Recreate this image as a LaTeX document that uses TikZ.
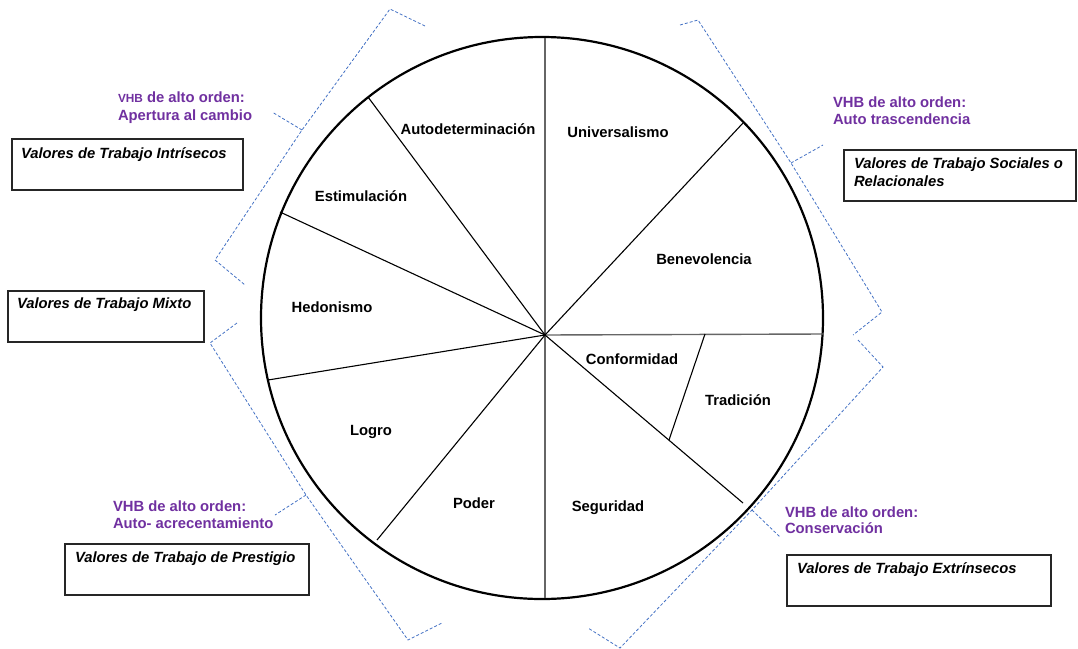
\documentclass[tikz,border=0pt]{standalone}
\usepackage{fontspec}
\setmainfont{Liberation Sans}
\definecolor{vhbpurple}{HTML}{7030A0}
\definecolor{bracketblue}{HTML}{4472C4}
\begin{document}
\begin{tikzpicture}[x=1pt,y=-1pt,
  every node/.style={inner sep=0pt, outer sep=0pt},
  wheel/.style={line width=2.2pt, black},
  spoke/.style={line width=1.1pt, black},
  axis/.style={line width=1.4pt, black!60},
  valuelbl/.style={font=\fontsize{14.8}{17.5}\selectfont\bfseries, anchor=base},
  vhb/.style={font=\fontsize{14.8}{17.5}\selectfont\bfseries, text=vhbpurple, anchor=base west},
  wbox/.style={draw=black!85, line width=1.1pt, anchor=north west, fill=white},
  wboxtext/.style={font=\fontsize{14.8}{17.5}\selectfont\bfseries\itshape, anchor=base west},
  brace/.style={draw=bracketblue, line width=0.8pt, dash pattern=on 3pt off 2pt}
]
\useasboundingbox (0,0) rectangle (1078,648);

% the value wheel
\coordinate (C) at (542,318);
\draw[wheel] (C) circle[radius=281];
\coordinate (H) at (545,335);
\coordinate (top) at (545,38);
\coordinate (bot) at (545,598);
\coordinate (right) at (823,334);
\coordinate (pA) at (368,97);
\coordinate (pB) at (743,123);
\coordinate (pC) at (280,212);
\coordinate (pD) at (268,380);
\coordinate (pE) at (377,540);
\coordinate (pF) at (743,503);
\coordinate (tq) at (705,334);
\coordinate (tr) at (669,440);
\draw[axis] (top) -- (bot);
\draw[axis] (H) -- (right);
\draw[spoke] (H) -- (pA);
\draw[spoke] (H) -- (pB);
\draw[spoke] (H) -- (pC);
\draw[spoke] (H) -- (pD);
\draw[spoke] (H) -- (pE);
\draw[spoke] (H) -- (pF);
\draw[spoke] (tq) -- (tr);

% value sectors
\node[valuelbl] (autod) at (468,134) {Autodeterminación};
\node[valuelbl] (univ) at (618,137) {Universalismo};
\node[valuelbl] (estim) at (361,201) {Estimulación};
\node[valuelbl] (benev) at (704,264) {Benevolencia};
\node[valuelbl] (hedon) at (332,312) {Hedonismo};
\node[valuelbl] (confo) at (632,364) {Conformidad};
\node[valuelbl] (tradi) at (738,405) {Tradición};
\node[valuelbl] (logro) at (371,435) {Logro};
\node[valuelbl] (poder) at (474,508) {Poder};
\node[valuelbl] (segur) at (608,511) {Seguridad};

% higher-order value labels
\node[vhb] (vhbA1) at (118,102) {{\fontsize{11.8}{12}\selectfont VHB} de alto orden:};
\node[vhb] (vhbA2) at (118,120) {Apertura al cambio};
\node[vhb] (vhbB1) at (833,107) {VHB de alto orden:};
\node[vhb] (vhbB2) at (833,124) {Auto trascendencia};
\node[vhb] (vhbC1) at (113,511) {VHB de alto orden:};
\node[vhb] (vhbC2) at (113,528) {Auto- acrecentamiento};
\node[vhb] (vhbD1) at (785,517) {VHB de alto orden:};
\node[vhb] (vhbD2) at (785,533) {Conservación};

% work value boxes
\node[wbox, minimum width=231, minimum height=51] (bxI) at (12,139) {};
\node[wboxtext] (txI) at (21,158) {Valores de Trabajo Intrísecos};
\node[wbox, minimum width=232, minimum height=51] (bxS) at (844,150) {};
\node[wboxtext] (txS1) at (854,168) {Valores de Trabajo Sociales o};
\node[wboxtext] (txS2) at (854,186) {Relacionales};
\node[wbox, minimum width=196, minimum height=51] (bxM) at (8,291) {};
\node[wboxtext] (txM) at (17,308) {Valores de Trabajo Mixto};
\node[wbox, minimum width=244, minimum height=51] (bxP) at (65,544) {};
\node[wboxtext] (txP) at (75,562) {Valores de Trabajo de Prestigio};
\node[wbox, minimum width=264, minimum height=51] (bxE) at (787,555) {};
\node[wboxtext] (txE) at (797,573) {Valores de Trabajo Extrínsecos};

% dashed braces grouping the sectors
\coordinate (a1) at (425,26);  \coordinate (a2) at (390,9);
\coordinate (an) at (302,130); \coordinate (a3) at (215,260);
\coordinate (a4) at (245,285); \coordinate (at) at (272,112);
\draw[brace] (a1) -- (a2) -- (an) -- (a3) -- (a4);
\draw[brace] (an) -- (at);

\coordinate (b1) at (680,25);  \coordinate (b2) at (698,20);
\coordinate (bn) at (791,163); \coordinate (b3) at (882,312);
\coordinate (b4) at (853,335); \coordinate (bt) at (823,145);
\draw[brace] (b1) -- (b2) -- (bn) -- (b3) -- (b4);
\draw[brace] (bn) -- (bt);

\coordinate (c1) at (858,340); \coordinate (c2) at (883,367);
\coordinate (cn) at (752,510); \coordinate (c3) at (620,648);
\coordinate (c4) at (588,628); \coordinate (ct) at (780,537);
\draw[brace] (c1) -- (c2) -- (cn) -- (c3) -- (c4);
\draw[brace] (cn) -- (ct);

\coordinate (d1) at (237,323); \coordinate (d2) at (210,343);
\coordinate (dn) at (306,495); \coordinate (d3) at (408,640);
\coordinate (d4) at (442,623); \coordinate (dt) at (275,515);
\draw[brace] (d1) -- (d2) -- (dn) -- (d3) -- (d4);
\draw[brace] (dn) -- (dt);
\end{tikzpicture}
\end{document}
